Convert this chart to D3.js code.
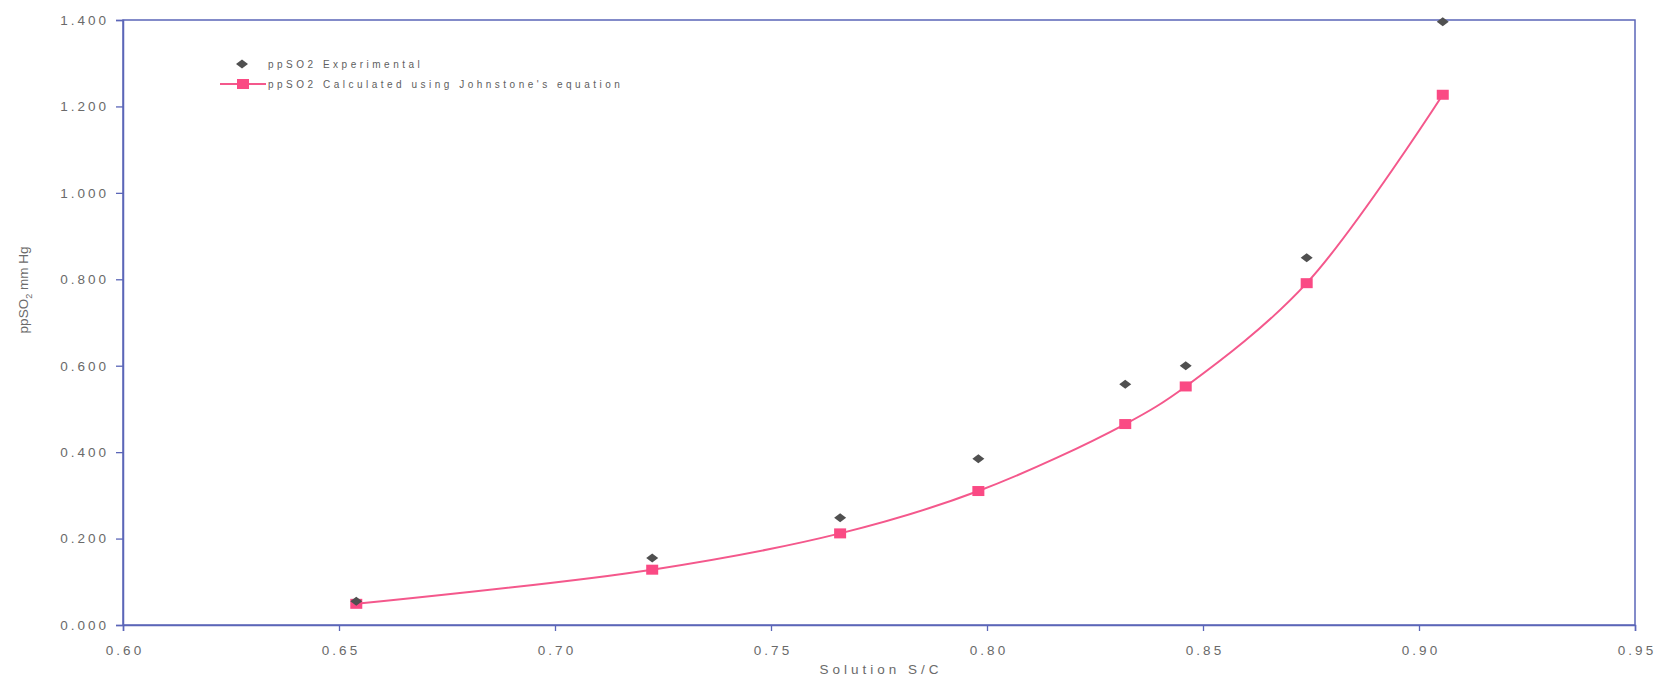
<!DOCTYPE html>
<html><head><meta charset="utf-8">
<script src="https://cdn.jsdelivr.net/npm/d3@7"></script>
<style>body{margin:0;background:#fff;} text{font-family:"Liberation Sans",Arial,sans-serif;}</style>
</head><body>
<svg id="c" width="1658" height="681"></svg>
<script>
const solutionSC = [0.654, 0.7225, 0.766, 0.798, 0.832, 0.846, 0.874, 0.9055];
const ppSO2Experimental = [0.055, 0.155, 0.248, 0.385, 0.557, 0.600, 0.850, 1.396];
const ppSO2Calculated = [0.049, 0.128, 0.212, 0.310, 0.465, 0.552, 0.791, 1.227];
const xTicks = [0.60, 0.65, 0.70, 0.75, 0.80, 0.85, 0.90, 0.95];
const yTicks = [0, 0.2, 0.4, 0.6, 0.8, 1.0, 1.2, 1.4];
const seriesNames = ["ppSO2 Experimental", "ppSO2 Calculated using Johnstone's equation"];

const svg = d3.select("#c");
const m = {l:123, t:20, r:1635, b:625};
const x = d3.scaleLinear().domain([0.60, 0.95]).range([m.l, m.r]);
const y = d3.scaleLinear().domain([0, 1.4]).range([m.b, m.t]);
const axisCol = "#5b66b8", txtCol = "#6a6a6a";

svg.append("rect").attr("x", m.l).attr("y", m.t).attr("width", m.r-m.l).attr("height", m.b-m.t)
  .attr("fill","none").attr("stroke", axisCol).attr("stroke-width", 1.5);

const xa = svg.append("g").attr("transform", `translate(0,${m.b})`)
  .call(d3.axisBottom(x).tickValues(xTicks).tickFormat(d3.format(".2f")).tickSize(6).tickPadding(14));
const ya = svg.append("g").attr("transform", `translate(${m.l},0)`)
  .call(d3.axisLeft(y).tickValues(yTicks).tickFormat(d3.format(".3f")).tickSize(7).tickPadding(10));
[xa, ya].forEach(a => {
  a.select(".domain").attr("stroke", axisCol).attr("stroke-width", 1.5);
  a.selectAll(".tick line").attr("stroke", axisCol).attr("stroke-width", 1.3);
  a.selectAll(".tick text").attr("fill", txtCol).style("font-size","13.5px").style("letter-spacing","3px")
    .style("font-family","'Liberation Sans',Arial,sans-serif");
});
xa.selectAll(".tick text").attr("dx", "1.5px");
ya.selectAll(".tick text").attr("dx", "3px");

svg.append("text").attr("x", (m.l+m.r)/2 + 2).attr("y", 674).attr("text-anchor","middle")
  .attr("fill", txtCol).style("font-size","13.5px").style("letter-spacing","4px").text("Solution S/C");
const yl = svg.append("text").attr("transform", "translate(28,290) rotate(-90)").attr("text-anchor","middle")
  .attr("fill", txtCol).style("font-size","13.5px");
yl.append("tspan").text("ppSO");
yl.append("tspan").attr("dy", 4).style("font-size","9px").text("2");
yl.append("tspan").attr("dy", -4).text(" mm Hg");

const pts = solutionSC.map((d,i)=>[x(d), y(ppSO2Calculated[i])]);
svg.append("path").attr("d", d3.line().curve(d3.curveCatmullRom.alpha(0.5))(pts))
  .attr("fill","none").attr("stroke","#f4588c").attr("stroke-width", 2);
svg.selectAll(".sq").data(solutionSC).join("rect")
  .attr("x", (d)=>x(d)-6).attr("y",(d,i)=>y(ppSO2Calculated[i])-5).attr("width",12).attr("height",10)
  .attr("fill","#fa4a84");

const diamond = "M0,-4.5 L6,0 L0,4.5 L-6,0 Z";
svg.selectAll(".dm").data(solutionSC).join("path")
  .attr("transform",(d,i)=>`translate(${x(d)},${y(ppSO2Experimental[i])})`)
  .attr("d", diamond).attr("fill","#505050");

const lg = svg.append("g");
lg.append("path").attr("transform","translate(242,64)").attr("d", diamond).attr("fill","#505050");
lg.append("line").attr("x1",220).attr("x2",266).attr("y1",84).attr("y2",84).attr("stroke","#f4588c").attr("stroke-width",2);
lg.append("rect").attr("x",237).attr("y",79).attr("width",12).attr("height",10).attr("fill","#fa4a84");
lg.selectAll(".lt").data(seriesNames).join("text")
  .attr("x", 268).attr("y",(d,i)=>68+i*20).attr("fill","#606060")
  .style("font-size","10px").style("letter-spacing","3.5px").text(d=>d);
</script>
</body></html>
